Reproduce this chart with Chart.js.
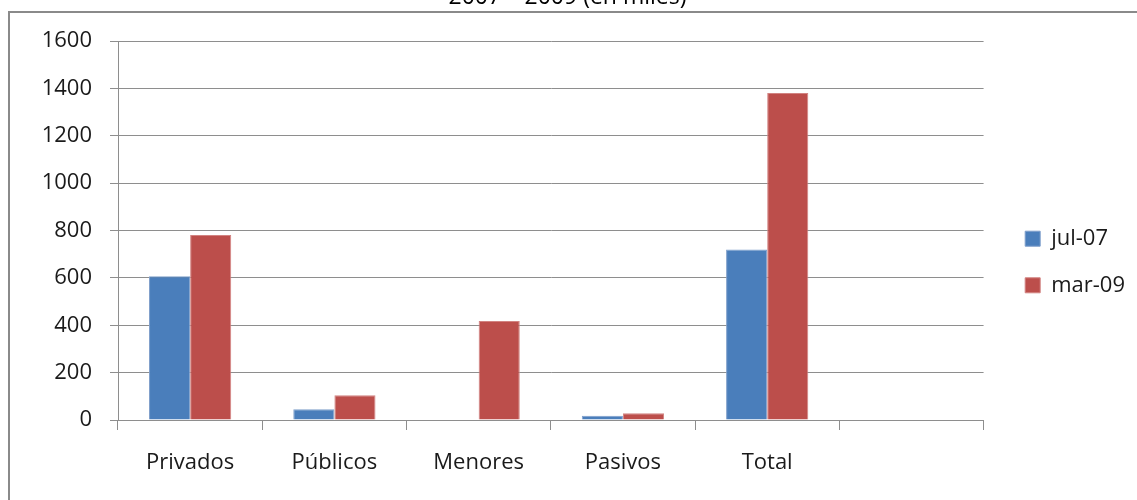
<!DOCTYPE html>
<html>
<head>
<meta charset="utf-8">
<script src="https://cdn.jsdelivr.net/npm/chart.js@4.4.1/dist/chart.umd.min.js"></script>
<style>
  html, body { margin: 0; padding: 0; background: #fff; overflow: hidden; }
  body { width: 1137px; height: 500px; position: relative; }
  #frame {
    position: absolute; left: 8px; top: 11px; width: 1300px; height: 700px;
    border-left: 2px solid #8a8a8a; border-top: 2px solid #8a8a8a;
  }
  #wrap { position: absolute; left: 0; top: -30px; width: 1137px; height: 530px; }
</style>
</head>
<body>
<div id="frame"></div>
<div id="wrap"><canvas id="chart"></canvas></div>
<script>
// --------------------
// Data
// --------------------
const titleText = '2007 \u2013 2009 (en miles)';
const categories = ['Privados', 'Públicos', 'Menores', 'Pasivos', 'Total', ''];
const seriesNames = ['jul-07', 'mar-09'];
const jul07 = [607, 45, null, 18, 720, null];
const mar09 = [781, 104, 418, 28, 1380, null];
const yTicks = [0, 200, 400, 600, 800, 1000, 1200, 1400, 1600];

const GRID = '#8e8e8e';
const FONT = { family: 'Open Sans', size: 22 };

new Chart(document.getElementById('chart'), {
  type: 'bar',
  data: {
    labels: categories,
    datasets: [
      {
        label: seriesNames[0],
        data: jul07,
        backgroundColor: '#4a7ebb',
        borderColor: '#7f9fcb',
        borderWidth: 1,
        categoryPercentage: 0.57,
        barPercentage: 1.0
      },
      {
        label: seriesNames[1],
        data: mar09,
        backgroundColor: '#bc4e4b',
        borderColor: '#d28381',
        borderWidth: 1,
        categoryPercentage: 0.57,
        barPercentage: 1.0
      }
    ]
  },
  options: {
    responsive: true,
    maintainAspectRatio: false,
    animation: false,
    layout: { padding: { left: 0, right: 2, top: 0, bottom: 0 } },
    plugins: {
      tooltip: { enabled: false },
      title: {
        display: true,
        text: titleText,
        color: '#000',
        font: { family: 'Open Sans', size: 23, weight: 'normal' },
        padding: { top: 14, bottom: 29.4 }
      },
      legend: {
        position: 'right',
        title: { display: true, text: ' ', font: FONT, padding: { top: 27.6, bottom: 0 } },
        labels: {
          color: '#1a1a1a',
          font: FONT,
          boxWidth: 15,
          boxHeight: 15,
          padding: 24.6,
          useBorderRadius: false
        }
      }
    },
    scales: {
      x: {
        grid: {
          display: true,
          offset: true,
          drawOnChartArea: false,
          drawTicks: true,
          tickLength: 10,
          color: GRID
        },
        border: { display: true, color: GRID },
        ticks: { color: '#1a1a1a', font: FONT, padding: 20, maxRotation: 0 },
        afterFit: s => { s.height = 80; }
      },
      y: {
        min: 0,
        max: 1600,
        afterBuildTicks: s => { s.ticks = yTicks.map(v => ({ value: v })); },
        grid: { color: GRID, tickLength: 8, drawTicks: true },
        border: { display: true, color: GRID },
        ticks: { color: '#1a1a1a', font: FONT, padding: 18, callback: v => String(v) },
        afterFit: s => { s.width = 118; }
      },
      // spacer between plot and legend
      gap: {
        position: 'right',
        display: true,
        grid: { display: false },
        border: { display: false },
        ticks: { display: false },
        afterFit: s => { s.width = 17; }
      }
    }
  }
});
</script>
</body>
</html>
